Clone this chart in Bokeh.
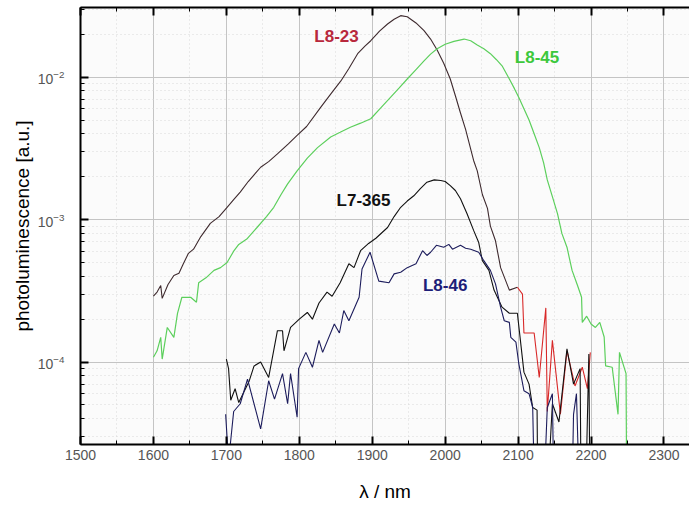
import numpy as np
from bokeh.plotting import figure
from bokeh.models import LinearAxis, Range1d, Label, CustomJSTickFormatter
from bokeh.embed import file_html
from bokeh.resources import INLINE

# ---------------- data ----------------
l823_x = [1600, 1605, 1610, 1612, 1620, 1628, 1635, 1641, 1648, 1655, 1665, 1678, 1690, 1701,
          1710, 1719, 1730, 1747, 1758, 1770, 1785, 1797, 1810, 1829, 1843, 1857, 1868, 1880,
          1890, 1898, 1910, 1921, 1930, 1939, 1948, 1960, 1971, 1980, 1989, 1998, 2007, 2014,
          2021, 2028, 2039, 2044, 2051, 2058, 2062, 2069, 2076, 2088, 2099, 2106, 2108, 2122,
          2129, 2138, 2140, 2147, 2158, 2167, 2178, 2188, 2195, 2199]
l823_y = [2.9e-4, 3.1e-4, 3.45e-4, 2.8e-4, 3.5e-4, 4.05e-4, 4.2e-4, 4.9e-4, 5.8e-4, 6.2e-4,
          7.6e-4, 9.4e-4, 1.05e-3, 1.22e-3, 1.38e-3, 1.56e-3, 1.85e-3, 2.33e-3, 2.55e-3, 2.89e-3,
          3.4e-3, 3.9e-3, 4.5e-3, 6.1e-3, 7.6e-3, 9.4e-3, 1.15e-2, 1.46e-2, 1.65e-2, 1.8e-2,
          2.1e-2, 2.36e-2, 2.55e-2, 2.7e-2, 2.65e-2, 2.4e-2, 2.12e-2, 1.85e-2, 1.55e-2, 1.25e-2,
          9.7e-3, 7.4e-3, 5.6e-3, 4.3e-3, 2.6e-3, 2.2e-3, 1.5e-3, 1.2e-3, 9.0e-4, 7.1e-4, 4.6e-4,
          3.2e-4, 3.35e-4, 3.0e-4, 1.6e-4, 1.6e-4, 7.8e-5, 2.4e-4, 4.5e-5, 1.42e-4, 4.3e-5,
          1.2e-4, 6.8e-5, 9.2e-5, 6.5e-5, 1.17e-4]

l845_x = [1600, 1605, 1610, 1612, 1619, 1628, 1633, 1639, 1651, 1659, 1662, 1672, 1683, 1692,
          1701, 1710, 1717, 1728, 1742, 1755, 1765, 1775, 1784, 1797, 1811, 1825, 1843, 1856,
          1870, 1884, 1898, 1912, 1925, 1937, 1948, 1960, 1971, 1980, 1989, 2000, 2012, 2026,
          2035, 2044, 2053, 2062, 2070, 2078, 2088, 2095, 2101, 2108, 2115, 2122, 2129, 2135,
          2140, 2147, 2154, 2160, 2167, 2174, 2181, 2187, 2188, 2194, 2200, 2206, 2212, 2218,
          2220, 2229, 2237, 2239, 2248, 2250]
l845_y = [1.08e-4, 1.2e-4, 1.49e-4, 1.05e-4, 1.75e-4, 1.49e-4, 2.2e-4, 2.85e-4, 2.85e-4, 2.63e-4,
          3.6e-4, 3.9e-4, 4.4e-4, 4.6e-4, 5.0e-4, 6.0e-4, 6.7e-4, 7.3e-4, 8.8e-4, 1.05e-3,
          1.22e-3, 1.5e-3, 1.78e-3, 2.2e-3, 2.7e-3, 3.2e-3, 3.8e-3, 4.1e-3, 4.45e-3, 4.75e-3,
          5.1e-3, 6.1e-3, 7.2e-3, 8.4e-3, 9.7e-3, 1.13e-2, 1.3e-2, 1.45e-2, 1.58e-2, 1.7e-2,
          1.78e-2, 1.85e-2, 1.8e-2, 1.68e-2, 1.58e-2, 1.46e-2, 1.33e-2, 1.2e-2, 9.7e-3, 8.3e-3,
          7.2e-3, 6.0e-3, 5.0e-3, 4.0e-3, 3.2e-3, 2.5e-3, 1.9e-3, 1.45e-3, 1.1e-3, 8.0e-4,
          6.4e-4, 4.4e-4, 3.5e-4, 2.85e-4, 1.9e-4, 2.1e-4, 1.85e-4, 1.75e-4, 1.9e-4, 1.5e-4,
          9.4e-5, 9.2e-5, 4.3e-5, 1.17e-4, 8.3e-5, 1e-6]

l7365_x = [1700, 1703, 1706, 1712, 1717, 1731, 1738, 1747, 1758, 1770, 1777, 1779, 1788, 1800,
           1811, 1818, 1827, 1838, 1845, 1856, 1868, 1875, 1884, 1895, 1905, 1921, 1930, 1939,
           1948, 1957, 1966, 1975, 1985, 1994, 2000, 2007, 2014, 2021, 2030, 2039, 2046, 2051,
           2060, 2067, 2078, 2088, 2099, 2104, 2108, 2115, 2120, 2126, 2129, 2147, 2156, 2167,
           2176, 2185, 2188, 2197, 2200]
l7365_y = [1.05e-4, 9e-5, 5.4e-5, 6.5e-5, 5.2e-5, 7.3e-5, 9.4e-5, 1.0e-4, 7.8e-5, 1.66e-4,
           1.66e-4, 1.2e-4, 1.75e-4, 2.0e-4, 2.23e-4, 2.0e-4, 2.6e-4, 3.1e-4, 2.9e-4, 3.6e-4,
           4.9e-4, 4.6e-4, 6.05e-4, 6.8e-4, 7.4e-4, 8.8e-4, 1.05e-3, 1.22e-3, 1.35e-3, 1.47e-3,
           1.65e-3, 1.83e-3, 1.9e-3, 1.88e-3, 1.85e-3, 1.73e-3, 1.6e-3, 1.4e-3, 1.1e-3, 8.4e-4,
           6.9e-4, 5.15e-4, 4.4e-4, 3.2e-4, 2.43e-4, 2.2e-4, 2.2e-4, 1.3e-4, 8.5e-5, 7.0e-5,
           4.8e-5, 4.6e-5, 1e-6, 5.1e-5, 3.8e-5, 1.24e-4, 7.0e-5, 9.0e-5, 1e-6, 1.14e-4, 1e-6]

l846_x = [1699, 1703, 1710, 1719, 1729, 1747, 1758, 1766, 1777, 1784, 1788, 1797, 1799, 1809,
          1818, 1827, 1832, 1848, 1855, 1861, 1868, 1882, 1886, 1897, 1909, 1923, 1930, 1939,
          1948, 1960, 1969, 1975, 1980, 1988, 1998, 2005, 2010, 2021, 2028, 2035, 2046, 2053,
          2062, 2069, 2076, 2081, 2088, 2090, 2097, 2101, 2108, 2115, 2120, 2127, 2140, 2147,
          2152, 2170, 2176, 2180, 2190]
l846_y = [4.3e-5, 2e-5, 4.5e-5, 5.1e-5, 7.6e-5, 3.4e-5, 7.4e-5, 5.5e-5, 8.3e-5, 5.1e-5,
          8.3e-5, 4.1e-5, 9.0e-5, 1.17e-4, 9.2e-5, 1.42e-4, 1.17e-4, 1.85e-4, 1.6e-4, 2.3e-4,
          1.95e-4, 2.85e-4, 4.5e-4, 5.9e-4, 3.7e-4, 3.6e-4, 4.16e-4, 4.27e-4, 4.6e-4, 4.9e-4,
          6.05e-4, 5.6e-4, 5.9e-4, 6.6e-4, 6.4e-4, 6.7e-4, 6.2e-4, 6.6e-4, 6.3e-4, 6.2e-4,
          5.9e-4, 5.15e-4, 4.4e-4, 3.54e-4, 2.43e-4, 1.95e-4, 1.9e-4, 1.49e-4, 1.38e-4, 9.7e-5,
          6.3e-5, 6.0e-5, 4.8e-5, 1e-6, 4.8e-5, 6e-5, 1e-6, 1e-6, 4.3e-5, 6e-5, 1e-6]

series_names = ["L8-23", "L8-45", "L7-365", "L8-46"]

# ---------------- figure ----------------
FONT = "Liberation Sans"
p = figure(width=689, height=509, x_range=Range1d(1500, 2335), y_range=Range1d(2.64e-5, 3.08e-2),
           y_axis_type="log", output_backend="svg", toolbar_location=None,
           min_border_left=80, min_border_right=0, min_border_top=7, min_border_bottom=65)
p.outline_line_color = None
p.background_fill_color = "#fbfbfb"
p.border_fill_color = "white"

# grids
for g in (p.xgrid[0], p.ygrid[0]):
    g.grid_line_color = "#c4c4c4"
    g.grid_line_width = 1
    g.minor_grid_line_color = "#d8d8d8"
    g.minor_grid_line_dash = "1 3"

# axes
xa = p.xaxis[0]
ya = p.yaxis[0]
for ax in (xa, ya):
    ax.axis_line_width = 2
    ax.axis_line_color = "black"
    ax.major_tick_in = 8
    ax.major_tick_out = 0
    ax.minor_tick_in = 4
    ax.minor_tick_out = 0
    ax.major_tick_line_width = 2
    ax.minor_tick_line_width = 1
    ax.major_label_text_font = FONT
    ax.major_label_text_color = "#555555"
    ax.axis_label_text_font = FONT
    ax.axis_label_text_font_style = "normal"
    ax.axis_label_text_color = "black"
    ax.axis_label_text_font_size = "19px"
xa.ticker.desired_num_ticks = 9
xa.ticker.num_minor_ticks = 2
xa.major_label_text_font_size = "14px"
xa.major_label_standoff = 5
xa.axis_label = "λ / nm"
xa.axis_label_standoff = 18
ya.major_label_text_font_size = "14px"
ya.major_label_standoff = 16
ya.axis_label = "photoluminescence [a.u.]"
ya.axis_label_standoff = 2

top = LinearAxis(ticker=xa.ticker, axis_line_width=2, major_tick_in=8, major_tick_out=0,
                 minor_tick_in=4, minor_tick_out=0, major_tick_line_width=2,
                 formatter=CustomJSTickFormatter(code="return '';"), major_label_standoff=0)
p.add_layout(top, "above")

# lines
x23 = np.array(l823_x); y23 = np.array(l823_y)
m = x23 <= 2099
p.line(x23[m], y23[m], line_color="#3e2a2e", line_width=1.1)
p.line(x23[x23 >= 2099], y23[x23 >= 2099], line_color="#d82828", line_width=1.1)
p.line(l845_x, l845_y, line_color="#5ccf5c", line_width=1.2)
p.line(l7365_x, l7365_y, line_color="#111111", line_width=1.1)
p.line(l846_x, l846_y, line_color="#1c1c5c", line_width=1.1)

# series labels
label_pos = [(1851, 1.92e-2), (2126, 1.38e-2), (1888, 1.36e-3), (2000, 3.44e-4)]
label_col = ["#b8283c", "#3cc83c", "#111111", "#1e1e78"]
for name, (lx, ly), c in zip(series_names, label_pos, label_col):
    p.add_layout(Label(x=lx, y=ly, text=name, text_align="center", text_baseline="middle",
                       text_font=FONT, text_font_size="17px", text_font_style="bold",
                       text_color=c))

open("out.html", "w").write(file_html(p, INLINE))
